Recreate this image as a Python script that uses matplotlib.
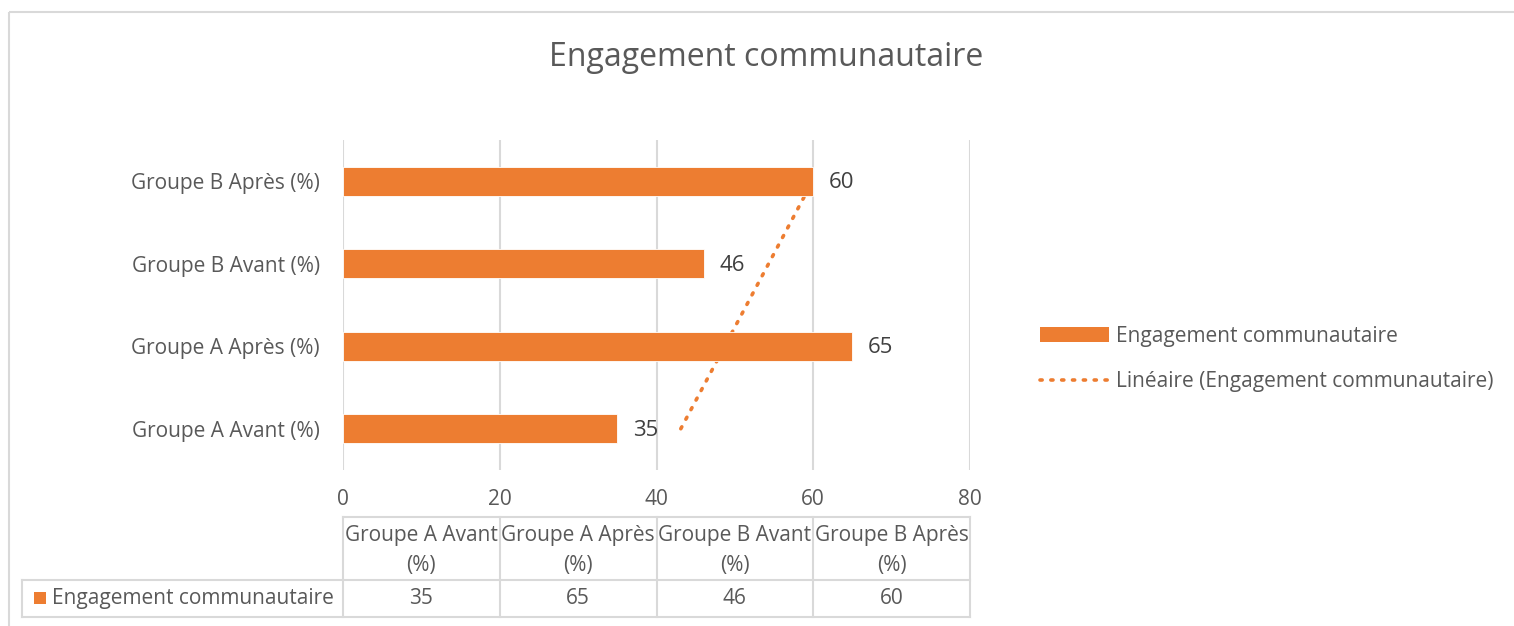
import numpy as np
import matplotlib
matplotlib.use('Agg')
import matplotlib.pyplot as plt
from matplotlib.patches import Patch, Rectangle
from matplotlib.lines import Line2D

plt.rcParams['font.family'] = ['Open Sans', 'DejaVu Sans']

# data
categories = ['Groupe A Avant (%)', 'Groupe A Après (%)',
              'Groupe B Avant (%)', 'Groupe B Après (%)']
table_heads = ['Groupe A Avant\n(%)', 'Groupe A Après\n(%)',
               'Groupe B Avant\n(%)', 'Groupe B Après\n(%)']
values = [35, 65, 46, 60]
series_name = 'Engagement communautaire'
title = 'Engagement communautaire'
xticks = [0, 20, 40, 60, 80]

ORANGE = '#ed7d31'
GRID = '#d9d9d9'
TXT = '#595959'
LBL = '#404040'
FS = 15

W, H = 1514, 626
fig = plt.figure(figsize=(W / 100, H / 100), dpi=100)

# plot area in pixels
left, right, top, bottom = 343, 970, 140, 470
ax = fig.add_axes([left / W, 1 - bottom / H, (right - left) / W, (bottom - top) / H])

y = np.arange(len(values))
ax.barh(y, values, height=0.35, color=ORANGE, edgecolor='white', linewidth=0.6, zorder=3)

# linear trend (under the bars, like the source)
k, b = np.polyfit(y, values, 1)
ax.plot(k * y + b, y, linestyle=(0, (0.6, 2.4)), dash_capstyle='round',
        color=ORANGE, linewidth=2.6, zorder=2)

for yi, v in zip(y, values):
    ax.text(v + 2.0, yi - 0.02, str(v), va='center', ha='left', fontsize=FS + 1, color=LBL)

ax.set_xlim(xticks[0], xticks[-1])
ax.set_ylim(-0.5, len(values) - 0.5)
ax.set_xticks(xticks)
ax.set_yticks(y)
ax.set_yticklabels(categories)
ax.tick_params(axis='both', length=0, labelsize=FS, colors=TXT)
ax.tick_params(axis='x', pad=14)
ax.tick_params(axis='y', pad=16.5)
ax.grid(axis='x', color=GRID, linewidth=1.5, zorder=0)
for s in ax.spines.values():
    s.set_visible(False)

fig.text(766 / W, 1 - 57 / H, title, ha='center', va='center', fontsize=23, color=TXT)

# overlay in pixel coords for border and data table
ov = fig.add_axes([0, 0, 1, 1], zorder=-1)
ov.set_xlim(0, W)
ov.set_ylim(H, 0)
ov.axis('off')
ov.add_patch(Rectangle((9, 12), W + 20, H + 20, fill=False, edgecolor=GRID, linewidth=1.5))

cols = np.linspace(left, right, len(values) + 1)
r0, r1, r2 = 517, 580, 617
tl = dict(color=GRID, linewidth=1.5)
ov.plot([left, right], [r0, r0], **tl)
ov.plot([22, right], [r1, r1], **tl)
ov.plot([22, right], [r2, r2], **tl)
ov.plot([22, 22], [r1, r2], **tl)
for cx in cols:
    ov.plot([cx, cx], [r0, r2], **tl)
for i, (h, v) in enumerate(zip(table_heads, values)):
    cx = (cols[i] + cols[i + 1]) / 2
    ov.text(cx, (r0 + r1) / 2 + 2, h, ha='center', va='center', fontsize=FS,
            color=TXT, linespacing=1.55)
    ov.text(cx, (r1 + r2) / 2, str(v), ha='center', va='center', fontsize=FS, color=TXT)
ov.add_patch(Rectangle((34, 592), 12, 12, color=ORANGE, linewidth=0))
ov.text(52, (r1 + r2) / 2, series_name, ha='left', va='center', fontsize=FS, color=TXT)

handles = [Patch(facecolor=ORANGE, edgecolor='none'),
           Line2D([0], [0], color=ORANGE, linestyle=(0, (0.6, 2.4)),
                  dash_capstyle='round', linewidth=2.6)]
fig.legend(handles, [series_name, 'Linéaire (' + series_name + ')'],
           loc='center left', bbox_to_anchor=(1021 / W, 1 - 359 / H),
           frameon=False, fontsize=FS, labelcolor=TXT, handlelength=3.3,
           handletextpad=0.35, labelspacing=1.15)

fig.savefig('out.png', dpi=100)
